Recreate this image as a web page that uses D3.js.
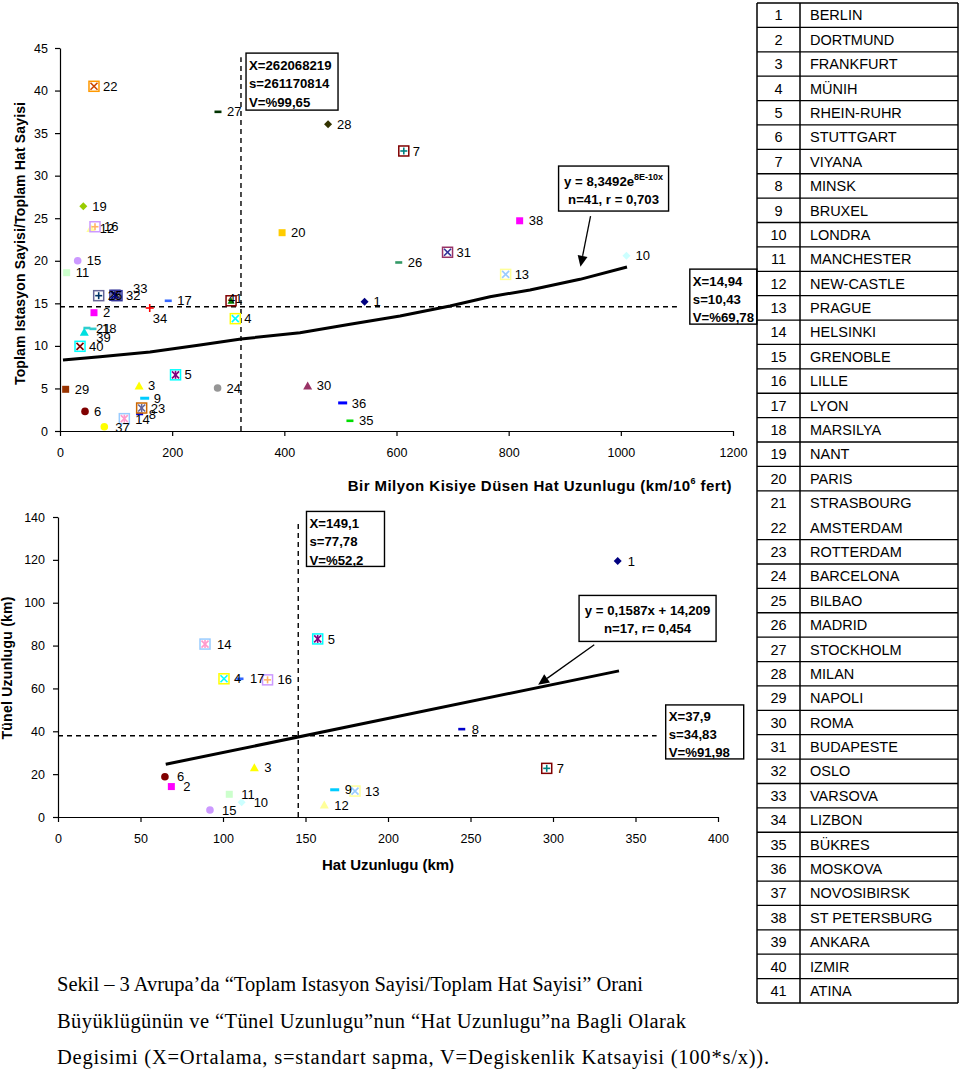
<!DOCTYPE html>
<html><head><meta charset="utf-8">
<script src="https://cdn.jsdelivr.net/npm/d3@7"></script>
<style>
body{margin:0;background:#fff}
svg{display:block}
text{font-family:"Liberation Sans",Arial,sans-serif;fill:#000}
</style>
</head><body>
<svg id="c" width="960" height="1070"></svg>
<script>
// ---------------- DATA ----------------
const cityNames = ["BERLIN","DORTMUND","FRANKFURT","MÜNIH","RHEIN-RUHR","STUTTGART","VIYANA","MINSK","BRUXEL","LONDRA",
  "MANCHESTER","NEW-CASTLE","PRAGUE","HELSINKI","GRENOBLE","LILLE","LYON","MARSILYA","NANT","PARIS",
  "STRASBOURG","AMSTERDAM","ROTTERDAM","BARCELONA","BILBAO","MADRID","STOCKHOLM","MILAN","NAPOLI","ROMA",
  "BUDAPESTE","OSLO","VARSOVA","LIZBON","BÜKRES","MOSKOVA","NOVOSIBIRSK","ST PETERSBURG","ANKARA","IZMIR","ATINA"];

// Top chart: line length per million inhabitants (x) vs stations / lines (y)
const ratioIds = [1,2,3,4,5,6,7,8,9,10,11,12,13,14,15,16,17,18,19,20,21,22,23,24,25,26,27,28,29,30,31,32,33,34,35,36,37,38,39,40,41];
const ratioX = [543,60.6,141,312.6,206,44.6,613,142,151,1010,11.9,55,794.6,114.7,31.5,62.4,193,58.8,41.6,396,
  48,60.6,145.6,281,69,604,281.7,478,10.1,441.6,691,101.6,98,160,517,504,79,819.6,43.3,35.7,305];
const ratioY = [15.2,13.9,5.3,13.2,6.6,2.3,32.9,2.0,3.85,20.6,18.6,23.8,18.4,1.45,20.0,24.0,15.3,12.0,26.4,23.3,
  12.1,40.5,2.7,5.05,15.9,19.8,37.5,36.05,4.9,5.3,21.0,15.9,15.95,14.45,1.2,3.3,0.5,24.7,11.6,9.95,15.3];
const ratioTrendX = [5.3,71.3,160.5,249.6,322.7,427.9,517.1,606.3,695.4,766.7,838,927.2,1011];
const ratioTrendY = [8.34,8.73,9.28,10.1,10.81,11.55,12.54,13.51,14.69,15.78,16.57,17.82,19.27];
const ratioXTicks = [0,200,400,600,800,1000,1200];
const ratioYTicks = [0,5,10,15,20,25,30,35,40,45];
const ratioMeanX = 322.7;   // vertical dashed reference
const ratioMeanY = 14.6;    // horizontal dashed reference
const ratioBoxX = ["X=262068219","s=261170814","V=%99,65"];
const ratioBoxY = ["X=14,94","s=10,43","V=%69,78"];
const ratioEq = ["y = 8,3492e","8E-10x","n=41, r = 0,703"];

// Bottom chart: line length (x) vs tunnel length (y)
const tunnelIds = [1,2,3,4,5,6,7,8,9,10,11,12,13,14,15,16,17];
const lineLen = [339.2,68.7,119,100.6,157.4,64.8,296.2,244.7,167.7,111.3,103.8,161.4,180,89.1,92.1,127,110.3];
const tunnelLen = [119.5,14.2,23,64.5,83.1,18.8,22.7,41,12.7,6.9,10.6,5.6,12.1,80.7,3.3,64,64.5];
const tunnelTrendX = [65.3,340];
const tunnelTrendY = [24.6,68.2];
const lenTicks = [0,50,100,150,200,250,300,350,400];
const tunTicks = [0,20,40,60,80,100,120,140];
const lenMean = 145.6;
const tunMean = 37.9;
const lenBox = ["X=149,1","s=77,78","V=%52,2"];
const tunBox = ["X=37,9","s=34,83","V=%91,98"];
const tunEq = ["y = 0,1587x + 14,209","n=17, r= 0,454"];

const captionLines = [
  "Sekil – 3 Avrupa’da “Toplam Istasyon Sayisi/Toplam Hat Sayisi” Orani",
  "Büyüklügünün ve “Tünel Uzunlugu”nun “Hat Uzunlugu”na Bagli Olarak",
  "Degisimi (X=Ortalama, s=standart sapma, V=Degiskenlik Katsayisi (100*s/x))."
];

// ---------------- STYLE ----------------
const markerStyle = {
  1:["diamond","#000080"],2:["square","#FF00FF"],3:["triangle","#FFFF00"],4:["boxx","#FFFF00","#00FFFF"],
  5:["boxstar","#00FFFF","#800080"],6:["circle","#800000"],7:["boxplus","#800000","#008080"],8:["dash","#0000CC"],
  9:["longdash","#00CCFF"],10:["diamond","#CCFFFF"],11:["square","#CCFFCC"],12:["triangle","#FFFF99"],
  13:["boxx","#FFFF99","#99CCFF"],14:["boxstar","#99CCFF","#FF99CC"],15:["circle","#CC99FF"],16:["boxplus","#CC99FF","#FFB366"],
  17:["dash","#3366FF"],18:["dash","#33CCCC"],19:["diamond","#99CC00"],20:["square","#FFCC00"],
  21:["dash","#33CCCC"],22:["boxx","#FF9900","#CC4400"],23:["boxstar","#CC6600","#666699"],24:["circle","#969696"],
  25:["boxplus","#666699","#003366"],26:["dash","#339966"],27:["dash","#003300"],28:["diamond","#333300"],
  29:["square","#993300"],30:["triangle","#993366"],31:["boxx","#993366","#333399"],32:["boxx","#333399","#333333"],
  33:["boxstar","#333399","#000080"],34:["plus","#FF0000"],35:["dash","#00DD00"],36:["longdash","#0000FF"],
  37:["circle","#FFFF00"],38:["square","#FF00FF"],39:["triangle","#00E0E0"],40:["boxx","#00FFFF","#800000"],
  41:["boxtri","#800000","#008000"]
};
const LABEL_FS = 13, TICK_FS = 12.5, BOX_FS = 13.2;

function drawMarker(g, id) {
  const [t, c1, c2] = markerStyle[id];
  const line = (x1,y1,x2,y2,c)=>g.append("line").attr("x1",x1).attr("y1",y1).attr("x2",x2).attr("y2",y2)
      .attr("stroke",c).attr("stroke-width",1.6);
  const box = ()=>g.append("rect").attr("x",-5).attr("y",-5).attr("width",10).attr("height",10)
      .attr("fill","none").attr("stroke",c1).attr("stroke-width",1.5);
  switch(t){
    case "diamond": g.append("path").attr("d","M0,-4L4,0L0,4L-4,0Z").attr("fill",c1); break;
    case "square": g.append("rect").attr("x",-3.5).attr("y",-3.5).attr("width",7).attr("height",7).attr("fill",c1); break;
    case "triangle": g.append("path").attr("d","M0,-4.5L4.5,3.5L-4.5,3.5Z").attr("fill",c1); break;
    case "circle": g.append("circle").attr("r",3.8).attr("fill",c1); break;
    case "dash": g.append("rect").attr("x",-3.5).attr("y",-1.3).attr("width",7).attr("height",2.6).attr("fill",c1); break;
    case "longdash": g.append("rect").attr("x",-4.5).attr("y",-1.5).attr("width",9).attr("height",3).attr("fill",c1); break;
    case "plus": line(-4,0,4,0,c1); line(0,-4,0,4,c1); break;
    case "boxx": box(); line(-3.5,-3.5,3.5,3.5,c2); line(-3.5,3.5,3.5,-3.5,c2); break;
    case "boxplus": box(); line(-3.5,0,3.5,0,c2); line(0,-3.5,0,3.5,c2); break;
    case "boxstar": box(); line(-3.5,-3.5,3.5,3.5,c2); line(-3.5,3.5,3.5,-3.5,c2); line(0,-4,0,4,c2); break;
    case "boxtri": box(); g.append("path").attr("d","M0,-3.5L3.5,3L-3.5,3Z").attr("fill",c2); break;
  }
}

const svg = d3.select("#c");
svg.append("rect").attr("width",960).attr("height",1070).attr("fill","#fff");

function styleAxis(g){
  g.selectAll("path,line").attr("stroke","#000").attr("stroke-width",1.2);
  g.selectAll("text").attr("font-size",TICK_FS).attr("font-family","Liberation Sans, Arial, sans-serif").attr("fill","#000");
}
function dashed(x1,y1,x2,y2){
  svg.append("line").attr("x1",x1).attr("y1",y1).attr("x2",x2).attr("y2",y2)
    .attr("stroke","#000").attr("stroke-width",1.4).attr("stroke-dasharray","5,4");
}
function textBox(x, y, w, h, lines, lineGap){
  svg.append("rect").attr("x",x).attr("y",y).attr("width",w).attr("height",h)
    .attr("fill","#fff").attr("stroke","#000").attr("stroke-width",1.4);
  lines.forEach((s,i)=>{
    svg.append("text").attr("x", x+3).attr("y", y+16.5+i*lineGap)
      .attr("font-size",BOX_FS).attr("font-weight","bold").text(s);
  });
}
function arrow(x1,y1,x2,y2){
  const a = Math.atan2(y2-y1,x2-x1), L=11, W=5;
  const bx = x2-L*Math.cos(a), by = y2-L*Math.sin(a);
  svg.append("line").attr("x1",x1).attr("y1",y1).attr("x2",bx).attr("y2",by).attr("stroke","#000").attr("stroke-width",1.3);
  svg.append("path").attr("d",`M${x2},${y2}L${bx+W*Math.sin(a)},${by-W*Math.cos(a)}L${bx-W*Math.sin(a)},${by+W*Math.cos(a)}Z`).attr("fill","#000");
}

// ---------------- TOP CHART ----------------
const x1 = d3.scaleLinear().domain([0,1200]).range([60,733]);
const y1 = d3.scaleLinear().domain([0,45]).range([431,48]);

dashed(x1(ratioMeanX), y1(0), x1(ratioMeanX), y1(43.9));
dashed(x1(0), y1(ratioMeanY), x1(1100), y1(ratioMeanY));

svg.append("g").attr("transform",`translate(0,${y1(0)})`)
  .call(d3.axisBottom(x1).tickValues(ratioXTicks).tickFormat(d3.format("d")).tickSize(5).tickSizeOuter(0).tickPadding(12)).call(styleAxis);
svg.append("g").attr("transform",`translate(${x1(0)},0)`)
  .call(d3.axisLeft(y1).tickValues(ratioYTicks).tickFormat(d3.format("d")).tickSize(5).tickSizeOuter(0).tickPadding(7)).call(styleAxis);

// trend line
const trend1 = ratioTrendX.map((v,i)=>[v, ratioTrendY[i]]);
svg.append("path").attr("d", d3.line().x(d=>x1(d[0])).y(d=>y1(d[1]))(trend1))
  .attr("fill","none").attr("stroke","#000").attr("stroke-width",3);

const topPts = ratioIds.map((id,i)=>({id, x:ratioX[i], y:ratioY[i]}));
topPts.forEach(p=>{
  drawMarker(svg.append("g").attr("transform",`translate(${x1(p.x)},${y1(p.y)})`), p.id);
});
const topNudge = {33:[18,-7],34:[3,10],41:[-3,-2],39:[12,5],14:[11,1],37:[11,1]};
topPts.forEach(p=>{
  const n = topNudge[p.id] || [9,0];
  svg.append("text").attr("x", x1(p.x)+n[0]).attr("y", y1(p.y)+4.6+n[1]).attr("font-size",LABEL_FS).text(p.id);
});

// annotations (anchored in data coordinates)
textBox(x1(331.7), y1(44.4), 92, 57, ratioBoxX, 18.6);
textBox(x1(1123), y1(19.02), 67, 55, ratioBoxY, 18);
(function(){
  const bx = x1(889), by = y1(31.13), w = 110, h = 45;
  svg.append("rect").attr("x",bx).attr("y",by).attr("width",w).attr("height",h)
    .attr("fill","#fff").attr("stroke","#000").attr("stroke-width",1.4);
  const t = svg.append("text").attr("x",bx+w/2).attr("y",by+19.5).attr("text-anchor","middle")
    .attr("font-size",BOX_FS).attr("font-weight","bold");
  t.append("tspan").text(ratioEq[0]);
  t.append("tspan").attr("dy",-6).attr("font-size",9).text(ratioEq[1]);
  svg.append("text").attr("x",bx+w/2).attr("y",by+38).attr("text-anchor","middle")
    .attr("font-size",BOX_FS).attr("font-weight","bold").text(ratioEq[2]);
  arrow(x1(946), y1(25.25), x1(928), y1(19.3));
})();

// axis titles
svg.append("text").attr("transform",`translate(24.5,${y1(22.5)+4}) rotate(-90)`).attr("text-anchor","middle")
  .attr("font-size",14).attr("font-weight","bold").attr("textLength",283).attr("lengthAdjust","spacing")
  .text("Toplam Istasyon Sayisi/Toplam Hat Sayisi");
(function(){
  const t = svg.append("text").attr("x",732).attr("y",491).attr("text-anchor","end")
    .attr("font-size",15).attr("font-weight","bold").attr("letter-spacing",0.45);
  t.append("tspan").text("Bir Milyon Kisiye Düsen Hat Uzunlugu (km/10");
  t.append("tspan").attr("dy",-7).attr("font-size",9).text("6");
  t.append("tspan").attr("dy",7).text(" fert)");
})();

// ---------------- BOTTOM CHART ----------------
const x2 = d3.scaleLinear().domain([0,400]).range([58,718]);
const y2 = d3.scaleLinear().domain([0,140]).range([817,517]);

dashed(x2(lenMean), y2(0), x2(lenMean), y2(137.8));
dashed(x2(0), y2(tunMean), x2(362.8), y2(tunMean));

svg.append("g").attr("transform",`translate(0,${y2(0)})`)
  .call(d3.axisBottom(x2).tickValues(lenTicks).tickFormat(d3.format("d")).tickSize(5).tickSizeOuter(0).tickPadding(12)).call(styleAxis);
svg.append("g").attr("transform",`translate(${x2(0)},0)`)
  .call(d3.axisLeft(y2).tickValues(tunTicks).tickFormat(d3.format("d")).tickSize(5).tickSizeOuter(0).tickPadding(8)).call(styleAxis);

const trend2 = tunnelTrendX.map((v,i)=>[v, tunnelTrendY[i]]);
svg.append("path").attr("d", d3.line().x(d=>x2(d[0])).y(d=>y2(d[1]))(trend2))
  .attr("fill","none").attr("stroke","#000").attr("stroke-width",3);

const botPts = tunnelIds.map((id,i)=>({id, x:lineLen[i], y:tunnelLen[i]}));
botPts.forEach(p=>{
  drawMarker(svg.append("g").attr("transform",`translate(${x2(p.x)},${y2(p.y)})`), p.id);
});
const botNudge = {6:[12,0],2:[12,0],14:[12,0],15:[12,0],11:[12,0],10:[12,0]};
botPts.forEach(p=>{
  const n = botNudge[p.id] || [10,0];
  svg.append("text").attr("x", x2(p.x)+n[0]).attr("y", y2(p.y)+4.6+n[1]).attr("font-size",LABEL_FS).text(p.id);
});

textBox(x2(150.6), y2(142.6), 78, 55, lenBox, 18.5);
(function(){
  const bx = x2(315.8), by = y2(103.4), w = 137, h = 46;
  svg.append("rect").attr("x",bx).attr("y",by).attr("width",w).attr("height",h)
    .attr("fill","#fff").attr("stroke","#000").attr("stroke-width",1.4);
  tunEq.forEach((s,i)=>svg.append("text").attr("x",bx+w/2).attr("y",by+20+i*17.6).attr("text-anchor","middle")
    .attr("font-size",BOX_FS).attr("font-weight","bold").text(s));
  arrow(x2(325),  y2(80.4), x2(291), y2(61.7));
})();
textBox(x2(368.3), y2(52.3), 78, 54, tunBox, 18);

svg.append("text").attr("transform",`translate(11.5,${y2(70)+1}) rotate(-90)`).attr("text-anchor","middle")
  .attr("font-size",14).attr("font-weight","bold").attr("textLength",143).attr("lengthAdjust","spacing")
  .text("Tünel Uzunlugu (km)");
svg.append("text").attr("x",388).attr("y",870).attr("text-anchor","middle")
  .attr("font-size",15).attr("font-weight","bold").attr("textLength",132).attr("lengthAdjust","spacing")
  .text("Hat Uzunlugu (km)");

// ---------------- TABLE ----------------
const rowY = d3.scaleBand().domain(d3.range(1,42)).range([3,1003]);
const tbl = svg.append("g");
[757,800,958].forEach(xx=>tbl.append("line").attr("x1",xx).attr("x2",xx).attr("y1",3).attr("y2",1003)
  .attr("stroke","#000").attr("stroke-width",1.5));
d3.range(1,43).forEach(i=>{
  if (i===22) return;
  const yy = i<=41 ? rowY(i) : rowY(41)+rowY.bandwidth();
  tbl.append("line").attr("x1",757).attr("x2",958).attr("y1",yy).attr("y2",yy).attr("stroke","#000").attr("stroke-width",1.3);
});
cityNames.forEach((name,i)=>{
  const cy = rowY(i+1)+rowY.bandwidth()/2+5.2;
  tbl.append("text").attr("x",778.5).attr("y",cy).attr("text-anchor","middle").attr("font-size",14.5).text(i+1);
  tbl.append("text").attr("x",810).attr("y",cy).attr("font-size",14.5).text(name);
});

// ---------------- CAPTION ----------------
const capWidths = [586, 629, 712];
captionLines.forEach((s,i)=>{
  svg.append("text").attr("x",57).attr("y",991+i*36.5)
    .style("font-family","'Liberation Serif','Times New Roman',serif").attr("font-size",20.5)
    .attr("textLength",capWidths[i]).attr("lengthAdjust","spacing").text(s);
});
</script>
</body></html>
